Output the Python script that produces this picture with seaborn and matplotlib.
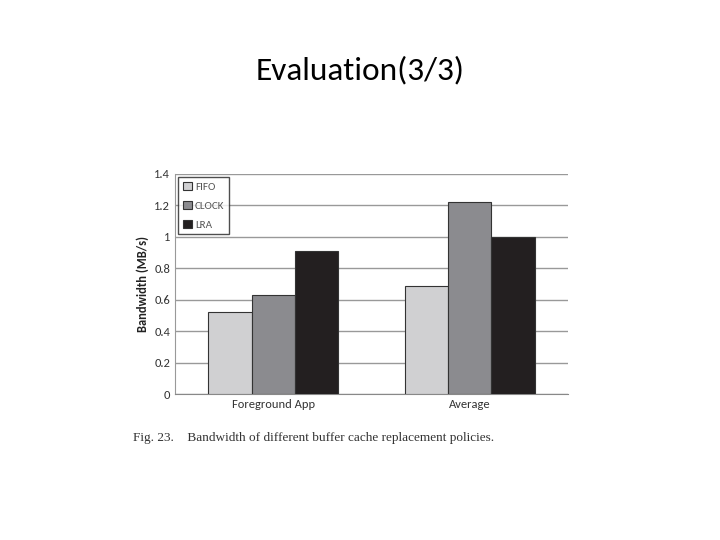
import matplotlib
matplotlib.use("Agg")
import matplotlib.pyplot as plt
import seaborn as sns
import pandas as pd

categories = ["Foreground App", "Average"]
policies = ["FIFO", "CLOCK", "LRA"]
fifo = [0.52, 0.69]
clock = [0.63, 1.22]
lra = [0.91, 1.00]
yticks = [0, 0.2, 0.4, 0.6, 0.8, 1, 1.2, 1.4]
ytick_labels = ["0", "0.2", "0.4", "0.6", "0.8", "1", "1.2", "1.4"]

rows = []
for i, c in enumerate(categories):
    for p, vals in zip(policies, [fifo, clock, lra]):
        rows.append({"cat": c, "policy": p, "val": vals[i]})
df = pd.DataFrame(rows)

sns.set_style("white")
plt.rcParams['font.family'] = ['Carlito', 'Liberation Sans', 'DejaVu Sans']
fig = plt.figure(figsize=(7.2, 5.4), dpi=100)
fig.patch.set_facecolor("white")
ax = fig.add_axes([0.243, 0.270, 0.546, 0.408])
palette = {"FIFO": "#d0d0d2", "CLOCK": "#8b8b8f", "LRA": "#231f20"}
sns.barplot(data=df, x="cat", y="val", hue="policy", hue_order=policies,
            palette=palette, width=0.66, ax=ax, edgecolor="#333333",
            linewidth=0.8, saturation=1, zorder=3)
ax.set_ylim(0, 1.4)
ax.set_yticks(yticks)
ax.set_yticklabels(ytick_labels)
ax.yaxis.grid(True, color="#999999", linewidth=1, zorder=0)
ax.set_axisbelow(True)
for s in ["top", "right"]:
    ax.spines[s].set_visible(False)
ax.spines["left"].set_color("#999999")
ax.spines["bottom"].set_color("#888888")
ax.tick_params(axis="both", labelsize=9, colors="#333333", length=0)
ax.set_xlabel("")
ax.set_ylabel("Bandwidth (MB/s)", fontsize=9, fontweight="bold", color="#222222")
leg = ax.legend(loc="upper left", fontsize=8, frameon=True, fancybox=False,
                handlelength=0.8, handleheight=0.8, handletextpad=0.3,
                borderaxespad=0.3, labelspacing=0.8)
leg.get_frame().set_edgecolor("#222222")
leg.get_frame().set_linewidth(1)
for t in leg.get_texts():
    t.set_color("#555555")

fig.text(0.50, 0.87, "Evaluation(3/3)", ha="center", va="center", fontsize=24, color="black")
fig.text(0.185, 0.188, "Fig. 23.    Bandwidth of different buffer cache replacement policies.",
         ha="left", va="center", fontsize=9.5, color="#333333", family=["Liberation Serif", "DejaVu Serif"])
fig.savefig("out.png", dpi=100, facecolor="white")
